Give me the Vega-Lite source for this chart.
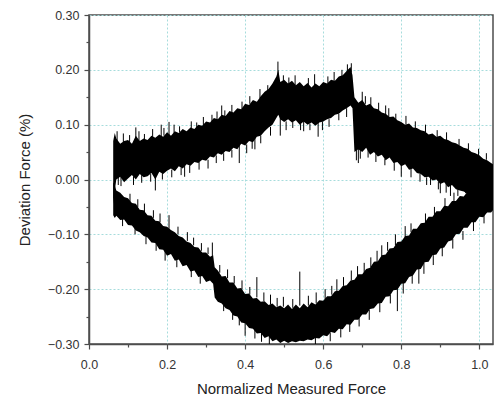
{
  "$schema": "https://vega.github.io/schema/vega-lite/v6.json",
  "autosize": {"type": "none"},
  "padding": {"left": 89, "top": 15, "right": 3, "bottom": 54},
  "width": 404,
  "height": 329,
  "background": "white",
  "config": {
    "font": "Liberation Sans",
    "view": {"stroke": "#4d4d4d", "strokeWidth": 1.5},
    "axis": {
      "domainColor": "#4d4d4d", "domainWidth": 1.5,
      "tickColor": "#4d4d4d", "tickWidth": 1.2,
      "labelColor": "#333333", "labelFontSize": 12.5, "labelFont": "Liberation Sans",
      "titleColor": "#222222", "titleFontSize": 15, "titleFontWeight": "normal", "titleFont": "Liberation Sans",
      "gridColor": "#a6dcdc", "gridDash": [2, 2], "gridWidth": 1,
      "labelOverlap": false, "labelFlush": false
    }
  },
  "datasets": {
    "upper": [
      {"x": 0.062, "lo": -0.045, "hi": 0.07}, {"x": 0.066, "lo": -0.02, "hi": 0.085}, {"x": 0.07, "lo": 0.0, "hi": 0.075},
      {"x": 0.08, "lo": 0.005, "hi": 0.065}, {"x": 0.09, "lo": -0.005, "hi": 0.07}, {"x": 0.1, "lo": 0.002, "hi": 0.072},
      {"x": 0.11, "lo": 0.008, "hi": 0.065}, {"x": 0.12, "lo": 0.0, "hi": 0.08}, {"x": 0.13, "lo": 0.01, "hi": 0.07},
      {"x": 0.14, "lo": 0.004, "hi": 0.075}, {"x": 0.15, "lo": 0.006, "hi": 0.072}, {"x": 0.16, "lo": 0.012, "hi": 0.08},
      {"x": 0.17, "lo": 0.0, "hi": 0.076}, {"x": 0.18, "lo": 0.014, "hi": 0.082}, {"x": 0.19, "lo": 0.01, "hi": 0.078},
      {"x": 0.2, "lo": 0.016, "hi": 0.086}, {"x": 0.21, "lo": 0.02, "hi": 0.08}, {"x": 0.22, "lo": 0.015, "hi": 0.088},
      {"x": 0.23, "lo": 0.024, "hi": 0.085}, {"x": 0.24, "lo": 0.02, "hi": 0.092}, {"x": 0.25, "lo": 0.028, "hi": 0.088},
      {"x": 0.26, "lo": 0.025, "hi": 0.095}, {"x": 0.27, "lo": 0.032, "hi": 0.092}, {"x": 0.28, "lo": 0.03, "hi": 0.1},
      {"x": 0.29, "lo": 0.036, "hi": 0.098}, {"x": 0.3, "lo": 0.034, "hi": 0.106}, {"x": 0.31, "lo": 0.042, "hi": 0.104},
      {"x": 0.32, "lo": 0.04, "hi": 0.112}, {"x": 0.33, "lo": 0.048, "hi": 0.11}, {"x": 0.34, "lo": 0.045, "hi": 0.118},
      {"x": 0.35, "lo": 0.052, "hi": 0.116}, {"x": 0.36, "lo": 0.05, "hi": 0.125}, {"x": 0.37, "lo": 0.058, "hi": 0.122},
      {"x": 0.38, "lo": 0.055, "hi": 0.13}, {"x": 0.39, "lo": 0.065, "hi": 0.128}, {"x": 0.4, "lo": 0.062, "hi": 0.138},
      {"x": 0.41, "lo": 0.07, "hi": 0.136}, {"x": 0.42, "lo": 0.068, "hi": 0.145}, {"x": 0.43, "lo": 0.078, "hi": 0.142},
      {"x": 0.44, "lo": 0.08, "hi": 0.152}, {"x": 0.45, "lo": 0.088, "hi": 0.16}, {"x": 0.46, "lo": 0.095, "hi": 0.165},
      {"x": 0.47, "lo": 0.1, "hi": 0.175}, {"x": 0.48, "lo": 0.112, "hi": 0.188}, {"x": 0.485, "lo": 0.118, "hi": 0.2},
      {"x": 0.49, "lo": 0.11, "hi": 0.178}, {"x": 0.5, "lo": 0.105, "hi": 0.182}, {"x": 0.51, "lo": 0.11, "hi": 0.175},
      {"x": 0.52, "lo": 0.104, "hi": 0.18}, {"x": 0.53, "lo": 0.108, "hi": 0.172}, {"x": 0.54, "lo": 0.1, "hi": 0.178},
      {"x": 0.55, "lo": 0.106, "hi": 0.17}, {"x": 0.56, "lo": 0.1, "hi": 0.176}, {"x": 0.57, "lo": 0.104, "hi": 0.168},
      {"x": 0.58, "lo": 0.098, "hi": 0.175}, {"x": 0.59, "lo": 0.104, "hi": 0.17}, {"x": 0.6, "lo": 0.106, "hi": 0.178},
      {"x": 0.61, "lo": 0.11, "hi": 0.175}, {"x": 0.62, "lo": 0.112, "hi": 0.182}, {"x": 0.63, "lo": 0.118, "hi": 0.18},
      {"x": 0.64, "lo": 0.12, "hi": 0.188}, {"x": 0.65, "lo": 0.126, "hi": 0.19}, {"x": 0.66, "lo": 0.13, "hi": 0.198},
      {"x": 0.67, "lo": 0.135, "hi": 0.205}, {"x": 0.675, "lo": 0.13, "hi": 0.19}, {"x": 0.68, "lo": 0.05, "hi": 0.15},
      {"x": 0.69, "lo": 0.055, "hi": 0.14}, {"x": 0.7, "lo": 0.05, "hi": 0.145}, {"x": 0.71, "lo": 0.058, "hi": 0.135},
      {"x": 0.72, "lo": 0.045, "hi": 0.138}, {"x": 0.73, "lo": 0.05, "hi": 0.13}, {"x": 0.74, "lo": 0.042, "hi": 0.128},
      {"x": 0.75, "lo": 0.045, "hi": 0.122}, {"x": 0.76, "lo": 0.035, "hi": 0.12}, {"x": 0.77, "lo": 0.04, "hi": 0.114},
      {"x": 0.78, "lo": 0.03, "hi": 0.115}, {"x": 0.79, "lo": 0.032, "hi": 0.108}, {"x": 0.8, "lo": 0.024, "hi": 0.105},
      {"x": 0.81, "lo": 0.028, "hi": 0.1}, {"x": 0.82, "lo": 0.018, "hi": 0.102}, {"x": 0.83, "lo": 0.02, "hi": 0.095},
      {"x": 0.84, "lo": 0.012, "hi": 0.094}, {"x": 0.85, "lo": 0.01, "hi": 0.09}, {"x": 0.86, "lo": 0.004, "hi": 0.088},
      {"x": 0.87, "lo": 0.005, "hi": 0.082}, {"x": 0.88, "lo": -0.002, "hi": 0.084}, {"x": 0.89, "lo": 0.0, "hi": 0.078},
      {"x": 0.9, "lo": -0.008, "hi": 0.08}, {"x": 0.91, "lo": -0.005, "hi": 0.074}, {"x": 0.92, "lo": -0.014, "hi": 0.072},
      {"x": 0.93, "lo": -0.01, "hi": 0.068}, {"x": 0.94, "lo": -0.018, "hi": 0.066}, {"x": 0.95, "lo": -0.02, "hi": 0.062},
      {"x": 0.96, "lo": -0.022, "hi": 0.058}, {"x": 0.97, "lo": -0.026, "hi": 0.056}, {"x": 0.98, "lo": -0.028, "hi": 0.05},
      {"x": 0.99, "lo": -0.032, "hi": 0.048}, {"x": 1.0, "lo": -0.034, "hi": 0.044}, {"x": 1.01, "lo": -0.036, "hi": 0.038},
      {"x": 1.02, "lo": -0.04, "hi": 0.035}, {"x": 1.03, "lo": -0.042, "hi": 0.03}, {"x": 1.035, "lo": -0.045, "hi": 0.028}
    ],
    "lower": [
      {"x": 0.062, "lo": -0.065, "hi": -0.005}, {"x": 0.066, "lo": -0.07, "hi": -0.01}, {"x": 0.07, "lo": -0.066, "hi": -0.02},
      {"x": 0.08, "lo": -0.074, "hi": -0.024}, {"x": 0.09, "lo": -0.073, "hi": -0.032}, {"x": 0.1, "lo": -0.083, "hi": -0.034},
      {"x": 0.11, "lo": -0.084, "hi": -0.043}, {"x": 0.12, "lo": -0.093, "hi": -0.044}, {"x": 0.13, "lo": -0.096, "hi": -0.055},
      {"x": 0.14, "lo": -0.103, "hi": -0.056}, {"x": 0.15, "lo": -0.106, "hi": -0.065}, {"x": 0.16, "lo": -0.115, "hi": -0.066},
      {"x": 0.17, "lo": -0.116, "hi": -0.075}, {"x": 0.18, "lo": -0.127, "hi": -0.076}, {"x": 0.19, "lo": -0.128, "hi": -0.085},
      {"x": 0.2, "lo": -0.139, "hi": -0.086}, {"x": 0.21, "lo": -0.136, "hi": -0.092}, {"x": 0.22, "lo": -0.148, "hi": -0.096},
      {"x": 0.23, "lo": -0.146, "hi": -0.103}, {"x": 0.24, "lo": -0.158, "hi": -0.106}, {"x": 0.25, "lo": -0.156, "hi": -0.113},
      {"x": 0.26, "lo": -0.168, "hi": -0.116}, {"x": 0.27, "lo": -0.166, "hi": -0.123}, {"x": 0.28, "lo": -0.178, "hi": -0.124},
      {"x": 0.29, "lo": -0.176, "hi": -0.133}, {"x": 0.3, "lo": -0.187, "hi": -0.133}, {"x": 0.31, "lo": -0.184, "hi": -0.141},
      {"x": 0.318, "lo": -0.19, "hi": -0.138}, {"x": 0.322, "lo": -0.215, "hi": -0.16}, {"x": 0.33, "lo": -0.223, "hi": -0.166},
      {"x": 0.34, "lo": -0.226, "hi": -0.177}, {"x": 0.35, "lo": -0.235, "hi": -0.176}, {"x": 0.36, "lo": -0.238, "hi": -0.188},
      {"x": 0.37, "lo": -0.248, "hi": -0.188}, {"x": 0.38, "lo": -0.25, "hi": -0.199}, {"x": 0.39, "lo": -0.261, "hi": -0.198},
      {"x": 0.4, "lo": -0.262, "hi": -0.209}, {"x": 0.41, "lo": -0.271, "hi": -0.208}, {"x": 0.42, "lo": -0.272, "hi": -0.217},
      {"x": 0.43, "lo": -0.281, "hi": -0.216}, {"x": 0.44, "lo": -0.28, "hi": -0.223}, {"x": 0.45, "lo": -0.289, "hi": -0.222},
      {"x": 0.46, "lo": -0.286, "hi": -0.229}, {"x": 0.47, "lo": -0.295, "hi": -0.226}, {"x": 0.48, "lo": -0.292, "hi": -0.233},
      {"x": 0.49, "lo": -0.298, "hi": -0.23}, {"x": 0.5, "lo": -0.294, "hi": -0.235}, {"x": 0.51, "lo": -0.298, "hi": -0.228},
      {"x": 0.52, "lo": -0.295, "hi": -0.236}, {"x": 0.53, "lo": -0.297, "hi": -0.228}, {"x": 0.54, "lo": -0.294, "hi": -0.235},
      {"x": 0.55, "lo": -0.295, "hi": -0.226}, {"x": 0.56, "lo": -0.292, "hi": -0.233}, {"x": 0.57, "lo": -0.293, "hi": -0.224},
      {"x": 0.58, "lo": -0.289, "hi": -0.228}, {"x": 0.59, "lo": -0.29, "hi": -0.22}, {"x": 0.6, "lo": -0.284, "hi": -0.221},
      {"x": 0.61, "lo": -0.286, "hi": -0.213}, {"x": 0.62, "lo": -0.278, "hi": -0.213}, {"x": 0.63, "lo": -0.28, "hi": -0.204},
      {"x": 0.64, "lo": -0.272, "hi": -0.203}, {"x": 0.65, "lo": -0.273, "hi": -0.194}, {"x": 0.66, "lo": -0.264, "hi": -0.193},
      {"x": 0.67, "lo": -0.265, "hi": -0.184}, {"x": 0.68, "lo": -0.256, "hi": -0.183}, {"x": 0.69, "lo": -0.256, "hi": -0.173},
      {"x": 0.7, "lo": -0.246, "hi": -0.173}, {"x": 0.71, "lo": -0.246, "hi": -0.163}, {"x": 0.72, "lo": -0.236, "hi": -0.161},
      {"x": 0.73, "lo": -0.235, "hi": -0.15}, {"x": 0.74, "lo": -0.226, "hi": -0.149}, {"x": 0.75, "lo": -0.225, "hi": -0.138},
      {"x": 0.76, "lo": -0.214, "hi": -0.137}, {"x": 0.77, "lo": -0.213, "hi": -0.126}, {"x": 0.78, "lo": -0.202, "hi": -0.125},
      {"x": 0.79, "lo": -0.201, "hi": -0.114}, {"x": 0.8, "lo": -0.19, "hi": -0.113}, {"x": 0.81, "lo": -0.189, "hi": -0.103},
      {"x": 0.82, "lo": -0.178, "hi": -0.102}, {"x": 0.83, "lo": -0.175, "hi": -0.09}, {"x": 0.84, "lo": -0.164, "hi": -0.09},
      {"x": 0.85, "lo": -0.163, "hi": -0.08}, {"x": 0.86, "lo": -0.151, "hi": -0.079}, {"x": 0.87, "lo": -0.15, "hi": -0.068},
      {"x": 0.88, "lo": -0.138, "hi": -0.068}, {"x": 0.89, "lo": -0.137, "hi": -0.058}, {"x": 0.9, "lo": -0.126, "hi": -0.058},
      {"x": 0.91, "lo": -0.124, "hi": -0.048}, {"x": 0.92, "lo": -0.113, "hi": -0.049}, {"x": 0.93, "lo": -0.111, "hi": -0.039},
      {"x": 0.94, "lo": -0.1, "hi": -0.039}, {"x": 0.95, "lo": -0.099, "hi": -0.03}, {"x": 0.96, "lo": -0.088, "hi": -0.031},
      {"x": 0.97, "lo": -0.088, "hi": -0.022}, {"x": 0.98, "lo": -0.078, "hi": -0.023}, {"x": 0.99, "lo": -0.078, "hi": -0.014},
      {"x": 1.0, "lo": -0.068, "hi": -0.015}, {"x": 1.01, "lo": -0.069, "hi": -0.008}, {"x": 1.02, "lo": -0.06, "hi": -0.01},
      {"x": 1.03, "lo": -0.06, "hi": -0.004}, {"x": 1.035, "lo": -0.056, "hi": -0.006}
    ],
    "spikes": [
      {"x": 0.075, "lo": -0.01, "hi": 0.03}, {"x": 0.17, "lo": -0.02, "hi": 0.03}, {"x": 0.245, "lo": 0.005, "hi": 0.04},
      {"x": 0.385, "lo": 0.03, "hi": 0.07}, {"x": 0.425, "lo": 0.055, "hi": 0.08}, {"x": 0.49, "lo": 0.08, "hi": 0.12},
      {"x": 0.55, "lo": 0.088, "hi": 0.11}, {"x": 0.587, "lo": 0.078, "hi": 0.11}, {"x": 0.685, "lo": 0.035, "hi": 0.07},
      {"x": 0.69, "lo": 0.03, "hi": 0.06}, {"x": 0.8, "lo": 0.005, "hi": 0.03}, {"x": 0.875, "lo": -0.01, "hi": 0.01},
      {"x": 0.9, "lo": -0.025, "hi": 0.0}, {"x": 0.926, "lo": -0.03, "hi": -0.005},
      {"x": 0.12, "lo": 0.07, "hi": 0.095}, {"x": 0.185, "lo": 0.07, "hi": 0.1}, {"x": 0.205, "lo": 0.08, "hi": 0.105},
      {"x": 0.34, "lo": 0.11, "hi": 0.135}, {"x": 0.484, "lo": 0.19, "hi": 0.215}, {"x": 0.672, "lo": 0.195, "hi": 0.212},
      {"x": 0.7, "lo": 0.13, "hi": 0.16}, {"x": 0.76, "lo": 0.11, "hi": 0.135},
      {"x": 0.205, "lo": -0.09, "hi": -0.065}, {"x": 0.316, "lo": -0.14, "hi": -0.115}, {"x": 0.43, "lo": -0.215, "hi": -0.178},
      {"x": 0.54, "lo": -0.23, "hi": -0.168}, {"x": 0.635, "lo": -0.205, "hi": -0.182}, {"x": 0.75, "lo": -0.14, "hi": -0.12},
      {"x": 0.81, "lo": -0.105, "hi": -0.085}, {"x": 0.4, "lo": -0.285, "hi": -0.26}, {"x": 0.79, "lo": -0.24, "hi": -0.2},
      {"x": 0.845, "lo": -0.19, "hi": -0.16}
    ],
    "fuzz": [
      {"x": 0.072, "lo": 0.07, "hi": 0.088}, {"x": 0.088, "lo": 0.068, "hi": 0.084}, {"x": 0.104, "lo": 0.068, "hi": 0.081},
      {"x": 0.128, "lo": 0.07, "hi": 0.088}, {"x": 0.142, "lo": 0.07, "hi": 0.083}, {"x": 0.163, "lo": 0.074, "hi": 0.092},
      {"x": 0.192, "lo": 0.08, "hi": 0.094}, {"x": 0.218, "lo": 0.084, "hi": 0.1}, {"x": 0.232, "lo": 0.086, "hi": 0.097},
      {"x": 0.262, "lo": 0.09, "hi": 0.106}, {"x": 0.276, "lo": 0.094, "hi": 0.104}, {"x": 0.293, "lo": 0.098, "hi": 0.114},
      {"x": 0.315, "lo": 0.106, "hi": 0.118}, {"x": 0.328, "lo": 0.108, "hi": 0.124}, {"x": 0.348, "lo": 0.114, "hi": 0.126},
      {"x": 0.366, "lo": 0.12, "hi": 0.136}, {"x": 0.392, "lo": 0.128, "hi": 0.142}, {"x": 0.412, "lo": 0.138, "hi": 0.152},
      {"x": 0.438, "lo": 0.148, "hi": 0.165}, {"x": 0.458, "lo": 0.16, "hi": 0.172}, {"x": 0.498, "lo": 0.176, "hi": 0.19},
      {"x": 0.512, "lo": 0.172, "hi": 0.186}, {"x": 0.528, "lo": 0.172, "hi": 0.19}, {"x": 0.562, "lo": 0.172, "hi": 0.185},
      {"x": 0.578, "lo": 0.172, "hi": 0.192}, {"x": 0.612, "lo": 0.175, "hi": 0.188}, {"x": 0.628, "lo": 0.18, "hi": 0.196},
      {"x": 0.648, "lo": 0.188, "hi": 0.2}, {"x": 0.662, "lo": 0.195, "hi": 0.21}, {"x": 0.708, "lo": 0.138, "hi": 0.152},
      {"x": 0.722, "lo": 0.134, "hi": 0.15}, {"x": 0.742, "lo": 0.126, "hi": 0.14}, {"x": 0.768, "lo": 0.114, "hi": 0.13},
      {"x": 0.786, "lo": 0.108, "hi": 0.12}, {"x": 0.812, "lo": 0.1, "hi": 0.116}, {"x": 0.836, "lo": 0.094, "hi": 0.106},
      {"x": 0.862, "lo": 0.086, "hi": 0.1}, {"x": 0.892, "lo": 0.078, "hi": 0.09}, {"x": 0.916, "lo": 0.072, "hi": 0.086},
      {"x": 0.948, "lo": 0.062, "hi": 0.074}, {"x": 0.972, "lo": 0.054, "hi": 0.066}, {"x": 0.998, "lo": 0.044, "hi": 0.056},
      {"x": 1.018, "lo": 0.036, "hi": 0.048},
      {"x": 0.082, "lo": -0.012, "hi": 0.006}, {"x": 0.114, "lo": -0.01, "hi": 0.006}, {"x": 0.135, "lo": -0.006, "hi": 0.008},
      {"x": 0.158, "lo": -0.004, "hi": 0.01}, {"x": 0.188, "lo": 0.0, "hi": 0.014}, {"x": 0.212, "lo": 0.004, "hi": 0.018},
      {"x": 0.236, "lo": 0.008, "hi": 0.022}, {"x": 0.258, "lo": 0.012, "hi": 0.026}, {"x": 0.282, "lo": 0.018, "hi": 0.032},
      {"x": 0.305, "lo": 0.02, "hi": 0.036}, {"x": 0.326, "lo": 0.03, "hi": 0.044}, {"x": 0.345, "lo": 0.034, "hi": 0.048},
      {"x": 0.366, "lo": 0.04, "hi": 0.054}, {"x": 0.404, "lo": 0.048, "hi": 0.064}, {"x": 0.418, "lo": 0.056, "hi": 0.07},
      {"x": 0.44, "lo": 0.066, "hi": 0.08}, {"x": 0.465, "lo": 0.08, "hi": 0.096}, {"x": 0.505, "lo": 0.09, "hi": 0.106},
      {"x": 0.522, "lo": 0.094, "hi": 0.106}, {"x": 0.542, "lo": 0.09, "hi": 0.102}, {"x": 0.566, "lo": 0.09, "hi": 0.102},
      {"x": 0.598, "lo": 0.09, "hi": 0.106}, {"x": 0.615, "lo": 0.096, "hi": 0.11}, {"x": 0.64, "lo": 0.108, "hi": 0.12},
      {"x": 0.66, "lo": 0.114, "hi": 0.13}, {"x": 0.695, "lo": 0.038, "hi": 0.054}, {"x": 0.715, "lo": 0.04, "hi": 0.056},
      {"x": 0.735, "lo": 0.032, "hi": 0.048}, {"x": 0.758, "lo": 0.026, "hi": 0.038}, {"x": 0.782, "lo": 0.016, "hi": 0.032},
      {"x": 0.825, "lo": 0.004, "hi": 0.02}, {"x": 0.848, "lo": -0.004, "hi": 0.01}, {"x": 0.865, "lo": -0.01, "hi": 0.004},
      {"x": 0.895, "lo": -0.018, "hi": -0.004}, {"x": 0.915, "lo": -0.024, "hi": -0.008}, {"x": 0.945, "lo": -0.03, "hi": -0.018},
      {"x": 0.105, "lo": -0.04, "hi": -0.026}, {"x": 0.125, "lo": -0.05, "hi": -0.036}, {"x": 0.142, "lo": -0.06, "hi": -0.044},
      {"x": 0.165, "lo": -0.07, "hi": -0.056}, {"x": 0.182, "lo": -0.078, "hi": -0.062}, {"x": 0.228, "lo": -0.1, "hi": -0.086},
      {"x": 0.252, "lo": -0.112, "hi": -0.096}, {"x": 0.268, "lo": -0.12, "hi": -0.106}, {"x": 0.288, "lo": -0.13, "hi": -0.116},
      {"x": 0.305, "lo": -0.136, "hi": -0.124}, {"x": 0.335, "lo": -0.17, "hi": -0.156}, {"x": 0.355, "lo": -0.18, "hi": -0.164},
      {"x": 0.372, "lo": -0.19, "hi": -0.176}, {"x": 0.392, "lo": -0.2, "hi": -0.184}, {"x": 0.412, "lo": -0.21, "hi": -0.196},
      {"x": 0.448, "lo": -0.222, "hi": -0.206}, {"x": 0.465, "lo": -0.228, "hi": -0.21}, {"x": 0.482, "lo": -0.232, "hi": -0.216},
      {"x": 0.498, "lo": -0.232, "hi": -0.214}, {"x": 0.522, "lo": -0.234, "hi": -0.218}, {"x": 0.562, "lo": -0.23, "hi": -0.212},
      {"x": 0.582, "lo": -0.226, "hi": -0.206}, {"x": 0.605, "lo": -0.218, "hi": -0.2}, {"x": 0.622, "lo": -0.21, "hi": -0.194},
      {"x": 0.652, "lo": -0.194, "hi": -0.178}, {"x": 0.672, "lo": -0.184, "hi": -0.166}, {"x": 0.688, "lo": -0.176, "hi": -0.158},
      {"x": 0.705, "lo": -0.17, "hi": -0.152}, {"x": 0.722, "lo": -0.16, "hi": -0.142}, {"x": 0.738, "lo": -0.15, "hi": -0.13},
      {"x": 0.765, "lo": -0.13, "hi": -0.114}, {"x": 0.785, "lo": -0.12, "hi": -0.1}, {"x": 0.825, "lo": -0.096, "hi": -0.08},
      {"x": 0.862, "lo": -0.078, "hi": -0.062}, {"x": 0.885, "lo": -0.066, "hi": -0.05}, {"x": 0.912, "lo": -0.05, "hi": -0.034},
      {"x": 0.935, "lo": -0.04, "hi": -0.024}, {"x": 0.965, "lo": -0.025, "hi": -0.012},
      {"x": 0.086, "lo": -0.085, "hi": -0.072}, {"x": 0.118, "lo": -0.1, "hi": -0.088}, {"x": 0.146, "lo": -0.118, "hi": -0.104},
      {"x": 0.172, "lo": -0.13, "hi": -0.116}, {"x": 0.195, "lo": -0.148, "hi": -0.13}, {"x": 0.225, "lo": -0.16, "hi": -0.146},
      {"x": 0.262, "lo": -0.178, "hi": -0.162}, {"x": 0.285, "lo": -0.19, "hi": -0.176}, {"x": 0.345, "lo": -0.24, "hi": -0.226},
      {"x": 0.368, "lo": -0.256, "hi": -0.24}, {"x": 0.385, "lo": -0.266, "hi": -0.252}, {"x": 0.425, "lo": -0.29, "hi": -0.274},
      {"x": 0.442, "lo": -0.296, "hi": -0.28}, {"x": 0.462, "lo": -0.3, "hi": -0.286}, {"x": 0.58, "lo": -0.3, "hi": -0.288},
      {"x": 0.618, "lo": -0.295, "hi": -0.28}, {"x": 0.645, "lo": -0.288, "hi": -0.27}, {"x": 0.668, "lo": -0.278, "hi": -0.262},
      {"x": 0.692, "lo": -0.268, "hi": -0.25}, {"x": 0.718, "lo": -0.256, "hi": -0.238}, {"x": 0.745, "lo": -0.242, "hi": -0.224},
      {"x": 0.772, "lo": -0.226, "hi": -0.21}, {"x": 0.805, "lo": -0.208, "hi": -0.188}, {"x": 0.828, "lo": -0.19, "hi": -0.172},
      {"x": 0.858, "lo": -0.172, "hi": -0.152}, {"x": 0.882, "lo": -0.156, "hi": -0.138}, {"x": 0.905, "lo": -0.14, "hi": -0.124},
      {"x": 0.932, "lo": -0.126, "hi": -0.108}, {"x": 0.958, "lo": -0.11, "hi": -0.094}, {"x": 0.985, "lo": -0.094, "hi": -0.076},
      {"x": 1.012, "lo": -0.08, "hi": -0.064}
    ]
  },
  "encoding": {
    "x": {
      "field": "x", "type": "quantitative",
      "scale": {"domain": [0, 1.035], "nice": false, "zero": false},
      "axis": {
        "title": "Normalized Measured Force",
        "values": [0, 0.1, 0.2, 0.3, 0.4, 0.5, 0.6, 0.7, 0.8, 0.9, 1.0],
        "format": ".1f",
        "labelExpr": "round(datum.value*10)%2==0 ? datum.label : ''",
        "tickSize": {"condition": {"test": "round(datum.value*10)%2==0", "value": 5}, "value": 3},
        "grid": true,
        "gridOpacity": {"condition": {"test": "round(datum.value*10)%2==0 && datum.value>0.05", "value": 1}, "value": 0},
        "labelPadding": 9,
        "titlePadding": 11
      }
    },
    "y": {
      "field": "lo", "type": "quantitative",
      "scale": {"domain": [-0.3, 0.3], "nice": false, "zero": false},
      "axis": {
        "title": "Deviation Force (%)",
        "values": [-0.3, -0.25, -0.2, -0.15, -0.1, -0.05, 0, 0.05, 0.1, 0.15, 0.2, 0.25, 0.3],
        "format": ".2f",
        "labelExpr": "round(datum.value*20)%2==0 ? datum.label : ''",
        "tickSize": {"condition": {"test": "round(datum.value*20)%2==0", "value": 5}, "value": 3},
        "grid": true,
        "gridOpacity": {"condition": {"test": "round(datum.value*20)%2==0", "value": 1}, "value": 0},
        "labelPadding": 5,
        "titlePadding": 15
      }
    },
    "y2": {"field": "hi"}
  },
  "layer": [
    {"data": {"name": "upper"}, "mark": {"type": "area", "color": "black", "opacity": 1, "clip": true}},
    {"data": {"name": "lower"}, "mark": {"type": "area", "color": "black", "opacity": 1, "clip": true}},
    {"data": {"name": "spikes"}, "mark": {"type": "rule", "color": "black", "strokeWidth": 1, "clip": true}},
    {"data": {"name": "fuzz"}, "mark": {"type": "rule", "color": "black", "strokeWidth": 1, "clip": true}}
  ]
}
